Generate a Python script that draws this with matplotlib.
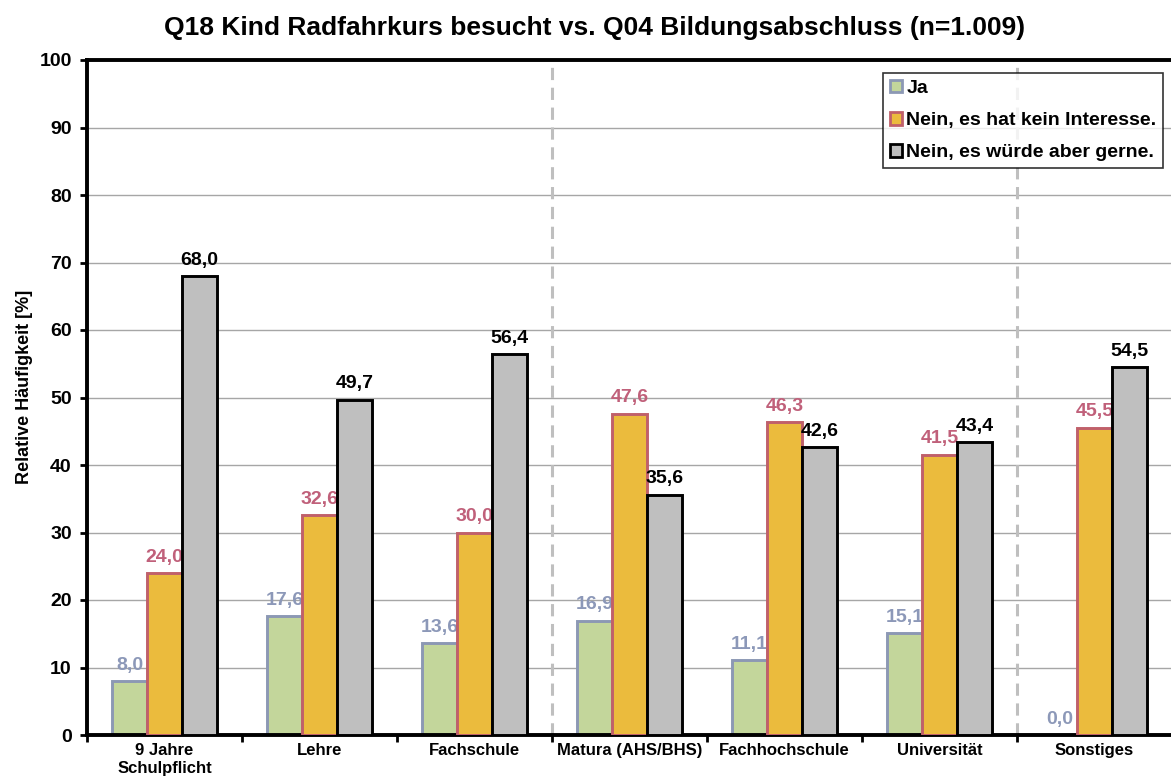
import matplotlib
matplotlib.use("Agg")
import matplotlib.pyplot as plt
import numpy as np
from matplotlib.patches import Patch

categories = ["9 Jahre\nSchulpflicht", "Lehre", "Fachschule", "Matura (AHS/BHS)",
              "Fachhochschule", "Universität", "Sonstiges"]
series_names = ["Ja", "Nein, es hat kein Interesse.", "Nein, es würde aber gerne."]
ja = [8.0, 17.6, 13.6, 16.9, 11.1, 15.1, 0.0]
kein_interesse = [24.0, 32.6, 30.0, 47.6, 46.3, 41.5, 45.5]
gerne = [68.0, 49.7, 56.4, 35.6, 42.6, 43.4, 54.5]
yticks = [0, 10, 20, 30, 40, 50, 60, 70, 80, 90, 100]
separators = [2.5, 5.5]

plt.rcParams['font.family'] = ['Liberation Sans', 'DejaVu Sans']
plt.rcParams['font.weight'] = 'bold'

fig = plt.figure(figsize=(11.71, 7.82), dpi=100)
ax = fig.add_axes([87/1171, 1 - 735/782, (1172 - 87)/1171, (735 - 60)/782])

faces = ["#C3D69B", "#EBBB3D", "#BFBFBF"]
edges = ["#8C98B4", "#C0606A", "#000000"]
label_colors = ["#8C98B8", "#C0607A", "#000000"]
data = [ja, kein_interesse, gerne]

x = np.arange(len(categories))
w = 0.226
for i, (vals, fc, ec, lc) in enumerate(zip(data, faces, edges, label_colors)):
    pos = x + (i - 1) * w
    ax.bar(pos, vals, width=w, color=fc, edgecolor=ec, linewidth=2.1,
           zorder=2 + i)
    for p, v in zip(pos, vals):
        ax.text(p, v + 1.1, f"{v:.1f}".replace(".", ","), ha="center", va="bottom",
                fontsize=14, fontweight="bold", color=lc, zorder=2.5 + i)

ax.set_xlim(-0.5, len(categories) - 0.5)
ax.set_ylim(0, 100)
ax.set_yticks(yticks)
ax.set_yticklabels([str(t) for t in yticks], fontsize=14, fontweight="bold")
ax.yaxis.grid(True, color="#A6A6A6", linewidth=1.0, zorder=0)
ax.set_axisbelow(True)

ax.set_xticks(np.arange(-0.5, len(categories) + 0.5, 1.0))
ax.set_xticklabels([])
ax.set_xticks(x, minor=True)
ax.set_xticklabels(categories, minor=True, fontsize=12, fontweight="bold")
ax.tick_params(axis="x", which="minor", length=0, pad=6)
ax.tick_params(axis="x", which="major", length=5, width=2, direction="out")
ax.tick_params(axis="y", length=5, width=2, direction="out", pad=6)

for s in separators:
    ax.axvline(s, color="#BFBFBF", linestyle=(0, (4, 2.5)), linewidth=2.2, zorder=1)

for side in ["left", "bottom", "top"]:
    ax.spines[side].set_linewidth(2.8)
    ax.spines[side].set_color("black")
ax.spines["right"].set_visible(False)

ax.set_ylabel("Relative Häufigkeit [%]", fontsize=13, fontweight="bold")
ax.yaxis.set_label_coords(-0.05, 0.516)
fig.suptitle("Q18 Kind Radfahrkurs besucht vs. Q04 Bildungsabschluss (n=1.009)",
             x=595/1171, y=1 - 28/782, va="center", fontsize=19, fontweight="bold")

handles = [Patch(facecolor=fc, edgecolor=ec, linewidth=2.0) for fc, ec in zip(faces, edges)]
leg = ax.legend(handles, series_names, loc="upper right", bbox_to_anchor=(0.992, 0.9805),
                frameon=True, fancybox=False, edgecolor="black", fontsize=14,
                handlelength=0.6, handleheight=0.6, handletextpad=0.25,
                labelspacing=0.78, borderpad=0.35, borderaxespad=0)
leg.get_frame().set_linewidth(1.2)
leg.set_zorder(10)
for t in leg.get_texts():
    t.set_fontweight("bold")

fig.savefig("out.png", dpi=100)
